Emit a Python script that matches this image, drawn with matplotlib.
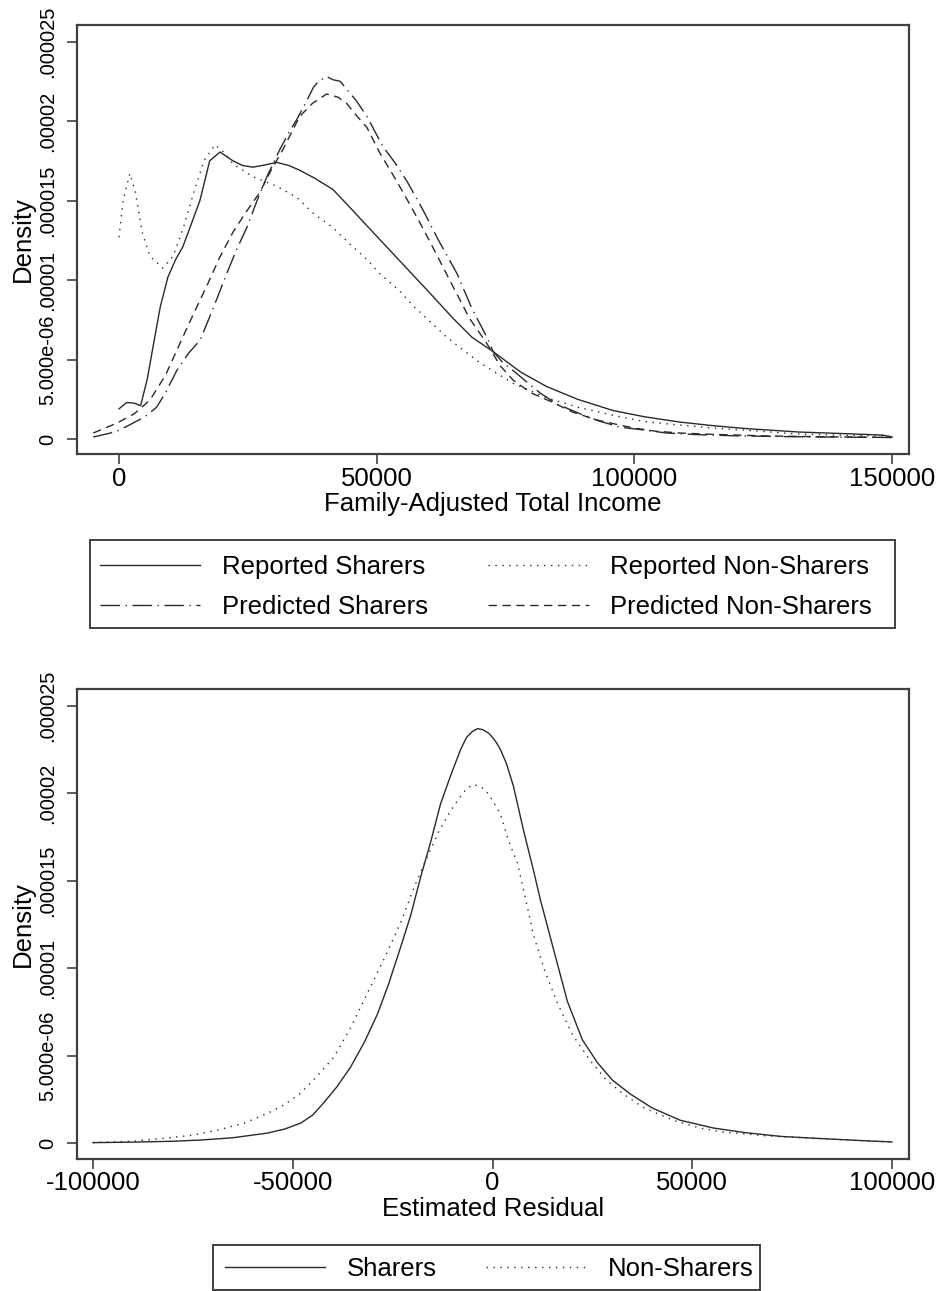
import numpy as np
import matplotlib
matplotlib.use("Agg")
import matplotlib.pyplot as plt
from matplotlib.patches import Rectangle

plt.rcParams['font.family'] = ['Liberation Sans', 'DejaVu Sans']

# ---------------- Top panel data (x in $, density in 1e-6) ----------------
rs_x = [0, 1500, 3000, 4200, 5500, 6600, 8000, 9500, 11000, 12400, 14000, 15700, 17600, 19600,
        22100, 24000, 26000, 28500, 30600, 33000, 35100, 38000, 41500, 45000, 49300, 54500,
        59700, 64800, 68500, 72600, 78000, 83000, 89000, 95800, 102000, 108800, 115000, 122000,
        132100, 140000, 148200, 150000]
rs_y = [1.9, 2.3, 2.25, 2.1, 3.8, 5.8, 8.3, 10.2, 11.3, 12.1, 13.5, 15.0, 17.5, 18.05,
        17.5, 17.2, 17.1, 17.25, 17.4, 17.2, 16.9, 16.4, 15.7, 14.5, 13.0, 11.2,
        9.4, 7.6, 6.4, 5.5, 4.2, 3.3, 2.5, 1.8, 1.4, 1.07, 0.85, 0.65,
        0.44, 0.35, 0.25, 0.13]

rns_x = [0, 800, 2100, 3200, 4500, 6000, 8500, 10500, 12500, 14500, 16500, 18600, 20500,
         22100, 26000, 30600, 34500, 37700, 41500, 45000, 48100, 50600, 54500, 57000,
         61000, 63600, 70000, 76500, 83000, 89000, 95800, 102000, 108800, 115000, 122000,
         132100, 140000, 148000, 150000]
rns_y = [12.7, 15.0, 16.7, 15.5, 13.0, 11.5, 10.75, 11.5, 13.3, 15.5, 17.5, 18.5, 18.0,
         17.3, 16.5, 15.9, 15.2, 14.2, 13.3, 12.2, 11.3, 10.4, 9.3, 8.4,
         7.2, 6.4, 4.8, 3.5, 2.6, 2.0, 1.5, 1.1, 0.88, 0.7, 0.55,
         0.31, 0.25, 0.19, 0.15]

ps_x = [-5000, -2000, 0, 2100, 5000, 7300, 9000, 11200, 13500, 15700, 18000, 20900, 22800,
        24800, 26800, 28700, 31200, 33000, 34500, 36000, 37700, 38700, 40300, 41500, 42900,
        44200, 46000, 48100, 51200, 53500, 55900, 59000, 62000, 65600, 68500, 71400, 72600,
        74500, 76500, 81700, 85000, 89400, 93000, 97200, 101000, 106300, 112000, 120000,
        130000, 140000, 150000]
ps_y = [0.13, 0.35, 0.55, 0.9, 1.4, 2.0, 2.9, 4.3, 5.4, 6.2, 8.0, 10.4, 11.9,
        13.3, 15.0, 16.5, 18.2, 19.3, 20.1, 21.0, 22.1, 22.5, 22.8, 22.6, 22.5,
        22.0, 21.3, 20.3, 18.4, 17.4, 16.2, 14.4, 12.5, 10.4, 8.2, 6.4, 5.5,
        4.8, 4.3, 2.9, 2.2, 1.6, 1.15, 0.75, 0.6, 0.38, 0.28, 0.2,
        0.15, 0.12, 0.1]

pns_x = [-5000, -400, 3000, 6000, 9000, 11800, 14500, 17000, 19500, 22100, 24700, 27300,
         29500, 31800, 33500, 35100, 37500, 40300, 42500, 44200, 46200, 48100, 50600, 53200,
         55500, 58400, 61000, 64800, 68000, 71400, 74000, 76500, 80000, 84200, 88000, 92700,
         99700, 104000, 108800, 115000, 125000, 135000, 150000]
pns_y = [0.38, 1.0, 1.6, 2.45, 4.0, 6.0, 7.9, 9.6, 11.4, 13.0, 14.3, 15.5,
         16.9, 18.2, 19.3, 20.3, 21.1, 21.7, 21.5, 21.1, 20.3, 19.6, 18.0, 16.6,
         15.3, 13.6, 12.0, 9.6, 7.6, 6.0, 4.6, 3.7, 2.9, 2.3, 1.7, 1.2,
         0.7, 0.5, 0.38, 0.3, 0.2, 0.15, 0.1]

# ---------------- Bottom panel data ----------------
sh_x = [-100000, -90000, -80000, -73000, -65000, -56250, -52000, -48000, -45000, -42250,
        -39000, -35500, -32000, -28750, -26000, -23000, -20500, -18000, -15500, -13000,
        -10500, -8000, -6500, -5000, -3750, -2500, -1000, 0, 1000, 2000, 3500, 5250, 7750,
        10250, 12000, 15250, 18750, 22500, 26250, 30000, 34500, 40000, 47000, 55250, 63000,
        72000, 80000, 87000, 94000, 100000]
sh_y = [0.02, 0.05, 0.1, 0.17, 0.3, 0.57, 0.8, 1.14, 1.6, 2.3,
        3.2, 4.35, 5.8, 7.4, 9.1, 11.2, 13.0, 15.2, 17.2, 19.4,
        21.0, 22.5, 23.2, 23.55, 23.7, 23.65, 23.45, 23.2, 22.9, 22.5, 21.7, 20.4, 17.9,
        15.6, 13.9, 11.1, 8.1, 5.9, 4.6, 3.6, 2.8, 2.0, 1.3, 0.86, 0.6,
        0.38, 0.28, 0.2, 0.12, 0.06]

ns_x = [-100000, -90000, -81250, -75000, -68750, -62000, -56250, -52000, -48000, -44000,
        -39750, -35500, -31250, -27000, -23000, -19500, -16250, -13500, -10500, -7500,
        -6000, -4750, -3000, -1500, 0, 2000, 4000, 6250, 8250, 10250, 13000, 16250, 20000,
        24500, 28500, 32750, 38000, 45250, 52000, 57750, 68000, 78750, 88000, 100000]
ns_y = [0.03, 0.1, 0.29, 0.45, 0.74, 1.15, 1.7, 2.2, 2.86, 3.8,
        4.9, 6.6, 8.6, 10.6, 12.6, 14.7, 16.4, 17.8, 19.0, 20.0,
        20.35, 20.5, 20.4, 20.1, 19.6, 18.8, 17.3, 16.0, 14.0, 11.9, 9.9, 8.0, 6.2,
        4.7, 3.6, 2.8, 2.0, 1.3, 0.85, 0.63, 0.42, 0.29, 0.18, 0.06]

ytick_vals = [0, 5e-6, 1e-5, 1.5e-5, 2e-5, 2.5e-5]
ytick_labels = ['0', '5.000e-06', '.00001', '.000015', '.00002', '.000025']
top_xticks = [0, 50000, 100000, 150000]
bot_xticks = [-100000, -50000, 0, 50000, 100000]

LC = '#2a2a2a'
FC = '#404040'
XTICK_FS = 18.5
YTICK_FS = 14.5
LAB_FS = 18.5

W, H = 943, 1291
fig = plt.figure(figsize=(W / 100, H / 100), dpi=100)
ax1 = fig.add_axes([77 / W, 1 - 454 / H, 832 / W, 429 / H])
ax2 = fig.add_axes([77 / W, 1 - 1159 / H, 832 / W, 470 / H])

S = 1e-6
lw = 1.0
DOT = (0, (1, 4))
DASH = (0, (6, 4))
DASHDOT = (0, (14, 4, 1, 4))
l_rs, = ax1.plot(rs_x, np.array(rs_y) * S, color=LC, lw=lw, ls='-', label='Reported Sharers')
l_ps, = ax1.plot(ps_x, np.array(ps_y) * S, color=LC, lw=lw, ls=DASHDOT, label='Predicted Sharers')
l_rns, = ax1.plot(rns_x, np.array(rns_y) * S, color=LC, lw=lw, ls=DOT, label='Reported Non-Sharers')
l_pns, = ax1.plot(pns_x, np.array(pns_y) * S, color=LC, lw=lw, ls=DASH, label='Predicted Non-Sharers')

l_sh, = ax2.plot(sh_x, np.array(sh_y) * S, color=LC, lw=lw, ls='-', label='Sharers')
l_ns, = ax2.plot(ns_x, np.array(ns_y) * S, color=LC, lw=lw, ls=DOT, label='Non-Sharers')

ax1.set_xlim(-8150, 153300)
ax1.set_ylim(-0.94e-6, 26.04e-6)
ax2.set_xlim(-104000, 104250)
ax2.set_ylim(-0.915e-6, 25.97e-6)

for ax, xt in ((ax1, top_xticks), (ax2, bot_xticks)):
    ax.set_xticks(xt)
    ax.set_xticklabels([str(v) for v in xt])
    ax.set_yticks(ytick_vals)
    ax.set_yticklabels(ytick_labels, rotation=90, va='center')
    ax.tick_params(direction='out', length=7, width=1.2, color=FC, labelcolor='black')
    ax.tick_params(axis='y', pad=7, labelsize=YTICK_FS)
    ax.tick_params(axis='x', pad=2, labelsize=XTICK_FS)
    for sp in ax.spines.values():
        sp.set_color(FC)
        sp.set_linewidth(1.6)
    ax.set_ylabel('Density', fontsize=LAB_FS, labelpad=3)

ax1.set_xlabel('Family-Adjusted Total Income', fontsize=LAB_FS, labelpad=1)
ax2.set_xlabel('Estimated Residual', fontsize=LAB_FS, labelpad=1)


def framed_legend(handles, box, anchor, center_y, colspacing):
    x0, y0, x1, y1 = box
    fig.add_artist(Rectangle((x0 / W, 1 - y1 / H), (x1 - x0) / W, (y1 - y0) / H,
                             transform=fig.transFigure, fill=False, edgecolor=FC, lw=1.4))
    return fig.legend(handles=handles, ncol=2, loc='center left',
                      bbox_to_anchor=(anchor / W, 1 - center_y / H),
                      fontsize=LAB_FS, frameon=False,
                      handlelength=3.9, handletextpad=0.85, borderaxespad=0, borderpad=0,
                      labelspacing=0.62, columnspacing=colspacing)


framed_legend([l_rs, l_ps, l_rns, l_pns], (90, 540, 895, 628), 100, 587, 2.35)
framed_legend([l_sh, l_ns], (213, 1245, 760, 1290), 225, 1269, 1.9)

fig.savefig('out.png', dpi=100)
